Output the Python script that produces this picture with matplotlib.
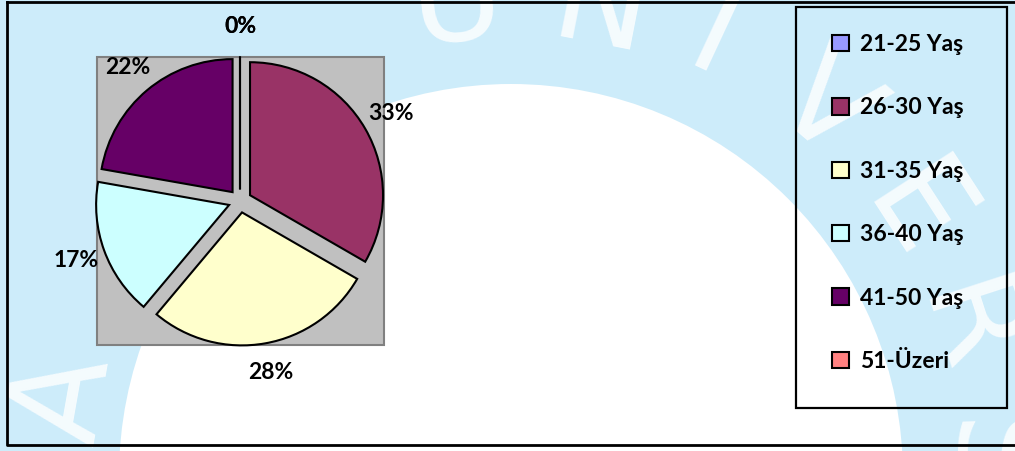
import numpy as np
import matplotlib
matplotlib.use("Agg")
import matplotlib.pyplot as plt
from matplotlib.patches import Rectangle, Circle

plt.rcParams['font.family'] = ['Lato', 'DejaVu Sans']

# ---- data ----
categories = ["21-25 Yaş", "26-30 Yaş", "31-35 Yaş", "36-40 Yaş", "41-50 Yaş", "51-Üzeri"]
counts = [0, 6, 5, 3, 4, 0]
colors = ["#9999FF", "#993366", "#FFFFCC", "#CCFFFF", "#660066", "#FF8080"]

W, H = 1015, 451
fig = plt.figure(figsize=(W / 100, H / 100), dpi=100)
fig.patch.set_facecolor("#cdecfa")

# ---- background layer (watermark + frames), pixel coordinates ----
bg = fig.add_axes([0, 0, 1, 1])
bg.set_xlim(0, W)
bg.set_ylim(H, 0)
bg.axis("off")
bg.set_zorder(0)

cx, cy = 511, 476
bg.add_patch(Circle((cx, cy), 392, facecolor="white", edgecolor="none", zorder=1))
wm_letters = [("A", -80, 452), ("U", -6.5, 476), ("N", 11, 474), ("I", 25, 480),
              ("V", 40.5, 482), ("E", 57, 478), ("R", 72, 476), ("S", 88, 476)]
for ch, ang, r in wm_letters:
    a = np.deg2rad(ang)
    x = cx + r * np.sin(a)
    y = cy - r * np.cos(a)
    bg.text(x, y, ch, fontsize=92, color="white", alpha=0.8, rotation=-ang,
            ha="center", va="center", family="DejaVu Sans", zorder=2,
            rotation_mode="anchor", clip_on=True)

# outer chart border (right edge lies beyond the image)
bg.plot([7, 7, 1030], [2, 445, 445], color="black", lw=2.0, zorder=3, solid_capstyle="projecting")
bg.plot([7, 1030], [2, 2], color="black", lw=2.0, zorder=3, solid_capstyle="projecting")
# plot area
bg.add_patch(Rectangle((97, 57), 287, 288, facecolor="#c0c0c0", edgecolor="#808080", lw=1.5, zorder=3))
# legend frame
bg.add_patch(Rectangle((796, 7), 211, 401, facecolor="none", edgecolor="black", lw=1.6, zorder=3))

# ---- pie ----
R_px = 133
pcx, pcy = 240, 201
half = 150
ax = fig.add_axes([(pcx - half) / W, (H - pcy - half) / H, 2 * half / W, 2 * half / H])
ax.set_zorder(2)
ax.patch.set_visible(False)
wedges, texts, autotexts = ax.pie(
    counts, colors=colors, startangle=90, counterclock=False,
    explode=[0.087] * len(counts), radius=1.0,
    autopct="%1.0f%%", pctdistance=1.225,
    wedgeprops=dict(edgecolor="black", linewidth=1.5),
    textprops=dict(fontsize=16.5, fontweight="bold", color="black"),
)
lim = half / R_px
ax.set_xlim(-lim, lim)
ax.set_ylim(-lim, lim)
ax.set_aspect("equal")
ax.axis("off")

# ---- legend ----
leg = fig.legend(wedges, categories, loc="upper left",
                 bbox_to_anchor=(832 / W, 1 - 34 / H),
                 frameon=False, borderpad=0, borderaxespad=0,
                 handlelength=0.72, handleheight=0.72, handletextpad=0.5,
                 labelspacing=1.85, prop=dict(size=16.5, weight="bold"))
leg.set_zorder(5)

fig.savefig("out.png", dpi=100)
